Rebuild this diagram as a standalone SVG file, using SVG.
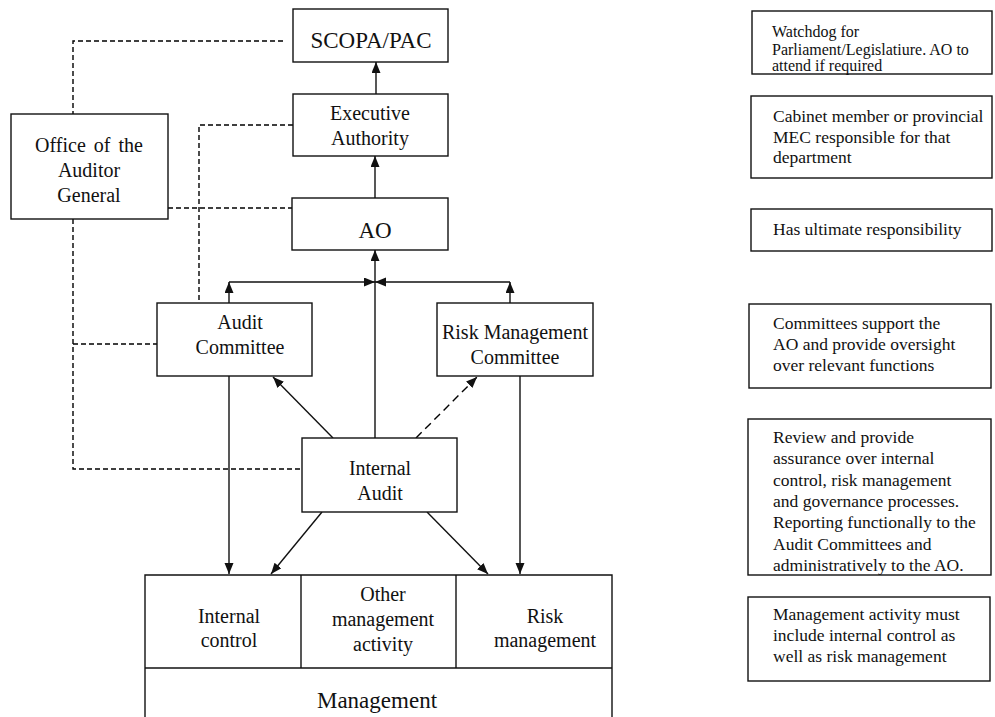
<svg xmlns="http://www.w3.org/2000/svg" width="995" height="717" viewBox="0 0 995 717">
<style>
  .box{fill:#fff;stroke:#111;stroke-width:1.4}
  .t{font-family:"Liberation Serif","Times New Roman",serif;fill:#111;text-anchor:middle}
  .n{font-family:"Liberation Serif","Times New Roman",serif;fill:#111;font-size:17.5px}
  .w{font-size:16px}
  .ln{fill:none;stroke:#111;stroke-width:1.4}
  .dash{fill:none;stroke:#000;stroke-width:1.4;stroke-dasharray:5,3}
  .dash2{fill:none;stroke:#000;stroke-width:1.4;stroke-dasharray:8,5}
</style>
<defs>
  <marker id="ah" markerUnits="userSpaceOnUse" markerWidth="12" markerHeight="10" refX="11" refY="4.5" orient="auto">
    <path d="M0,0 L11,4.5 L0,9 z" fill="#111"/>
  </marker>
</defs>
<rect width="995" height="717" fill="#fff"/>

<g id="connectors">
  <path class="dash" d="M283 41 H73 V114"/>
  <path class="dash" d="M293 125 H199 V303"/>
  <path class="dash" d="M168 208 H292"/>
  <path class="dash" d="M73 219 V469 H302"/>
  <path class="dash" d="M73 344 H157"/>
  <line class="ln" x1="376" y1="94" x2="376" y2="62" marker-end="url(#ah)"/>
  <line class="ln" x1="375" y1="198" x2="375" y2="156" marker-end="url(#ah)"/>
  <line class="ln" x1="375" y1="438" x2="375" y2="250" marker-end="url(#ah)"/>
  <line class="ln" x1="229" y1="303" x2="229" y2="282" marker-end="url(#ah)"/>
  <line class="ln" x1="229" y1="282" x2="375" y2="282" marker-end="url(#ah)"/>
  <line class="ln" x1="510" y1="303" x2="510" y2="282" marker-end="url(#ah)"/>
  <line class="ln" x1="510" y1="282" x2="375" y2="282" marker-end="url(#ah)"/>
  <line class="ln" x1="229" y1="376" x2="229" y2="574" marker-end="url(#ah)"/>
  <line class="ln" x1="520" y1="376" x2="520" y2="574" marker-end="url(#ah)"/>
  <line class="ln" x1="333" y1="438" x2="273" y2="377" marker-end="url(#ah)"/>
  <line class="dash2" x1="416" y1="438" x2="477" y2="377" marker-end="url(#ah)"/>
  <line class="ln" x1="322" y1="512" x2="271" y2="574" marker-end="url(#ah)"/>
  <line class="ln" x1="427" y1="512" x2="488" y2="574" marker-end="url(#ah)"/>
</g>

<g id="scopa">
  <rect class="box" x="293" y="9" width="155" height="53"/>
  <text class="t" x="371" y="48" font-size="23">SCOPA/PAC</text>
</g>
<g id="executive">
  <rect class="box" x="293" y="94" width="155" height="62"/>
  <text class="t" x="370" y="120" font-size="20">Executive</text>
  <text class="t" x="370" y="145" font-size="20">Authority</text>
</g>
<g id="ao">
  <rect class="box" x="292" y="198" width="156" height="52"/>
  <text class="t" x="375" y="238" font-size="23">AO</text>
</g>
<g id="auditor-general">
  <rect class="box" x="11" y="114" width="157" height="105"/>
  <text class="t" x="89" y="152" font-size="20" word-spacing="3">Office of the</text>
  <text class="t" x="89" y="177" font-size="20">Auditor</text>
  <text class="t" x="89" y="202" font-size="20">General</text>
</g>
<g id="audit-committee">
  <rect class="box" x="157" y="303" width="155" height="73"/>
  <text class="t" x="240" y="329" font-size="20">Audit</text>
  <text class="t" x="240" y="354" font-size="20">Committee</text>
</g>
<g id="risk-committee">
  <rect class="box" x="437" y="303" width="156" height="73"/>
  <text class="t" x="515" y="339" font-size="20">Risk Management</text>
  <text class="t" x="515" y="364" font-size="20">Committee</text>
</g>
<g id="internal-audit">
  <rect class="box" x="302" y="438" width="155" height="74"/>
  <text class="t" x="380" y="475" font-size="20">Internal</text>
  <text class="t" x="380" y="500" font-size="20">Audit</text>
</g>
<g id="management">
  <path class="ln" d="M145 717 V575 H612 V717"/>
  <line class="ln" x1="145" y1="668" x2="612" y2="668"/>
  <line class="ln" x1="301" y1="575" x2="301" y2="668"/>
  <line class="ln" x1="456" y1="575" x2="456" y2="668"/>
  <text class="t" x="229" y="623" font-size="20">Internal</text>
  <text class="t" x="229" y="647" font-size="20">control</text>
  <text class="t" x="383" y="601" font-size="20">Other</text>
  <text class="t" x="383" y="626" font-size="20">management</text>
  <text class="t" x="383" y="651" font-size="20">activity</text>
  <text class="t" x="545" y="623" font-size="20">Risk</text>
  <text class="t" x="545" y="647" font-size="20">management</text>
  <text class="t" x="377" y="708" font-size="23">Management</text>
</g>

<g id="note-scopa">
  <rect class="box" x="752" y="11" width="240" height="63"/>
  <text class="n w" x="772" y="37">Watchdog for</text>
  <text class="n w" x="772" y="55">Parliament/Legislatiure. AO to</text>
  <text class="n w" x="772" y="71">attend if required</text>
</g>
<g id="note-executive">
  <rect class="box" x="751" y="96" width="241" height="82"/>
  <text class="n" x="773" y="122">Cabinet member or provincial</text>
  <text class="n" x="773" y="143">MEC responsible for that</text>
  <text class="n" x="773" y="163">department</text>
</g>
<g id="note-ao">
  <rect class="box" x="751" y="209" width="241" height="42"/>
  <text class="n" x="773" y="235">Has ultimate responsibility</text>
</g>
<g id="note-committees">
  <rect class="box" x="749" y="304" width="242" height="84"/>
  <text class="n" x="773" y="329">Committees support the</text>
  <text class="n" x="773" y="350">AO and provide oversight</text>
  <text class="n" x="773" y="371">over relevant functions</text>
</g>
<g id="note-internal-audit">
  <rect class="box" x="748" y="419" width="243" height="156"/>
  <text class="n" x="773" y="443">Review and provide</text>
  <text class="n" x="773" y="464">assurance over internal</text>
  <text class="n" x="773" y="486">control, risk management</text>
  <text class="n" x="773" y="507">and governance processes.</text>
  <text class="n" x="773" y="528">Reporting functionally to the</text>
  <text class="n" x="773" y="550">Audit Committees and</text>
  <text class="n" x="773" y="571">administratively to the AO.</text>
</g>
<g id="note-management">
  <rect class="box" x="748" y="597" width="242" height="84"/>
  <text class="n" x="773" y="620">Management activity must</text>
  <text class="n" x="773" y="641">include internal control as</text>
  <text class="n" x="773" y="662">well as risk management</text>
</g>
</svg>
